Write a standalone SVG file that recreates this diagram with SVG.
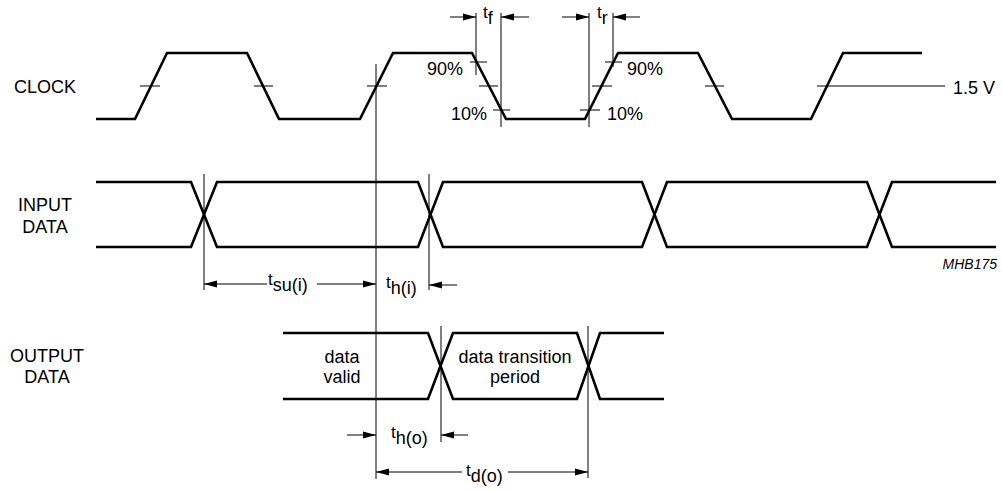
<svg xmlns="http://www.w3.org/2000/svg" width="1002" height="490" viewBox="0 0 1002 490">
<style>
.sig{fill:none;stroke:#000;stroke-width:2.6;stroke-linejoin:miter}
.thin{fill:none;stroke:#000;stroke-width:1}
.arr{fill:none;stroke:#000;stroke-width:1;marker-end:url(#ah)}
text{font-family:"Liberation Sans",Arial,sans-serif;font-size:18px;fill:#000}
.c{text-anchor:middle}
.sm{font-size:17px}
.sub{font-size:18px}
.it{font-style:italic;font-size:14px}
</style>
<defs>
<marker id="ah" markerUnits="userSpaceOnUse" markerWidth="13" markerHeight="8" refX="13" refY="4" orient="auto">
<path d="M0,0.5 L13,4 L0,7.5 z" fill="#000"/>
</marker>
</defs>
<rect width="1002" height="490" fill="#fff"/>
<g id="clock">
<text x="14" y="93">CLOCK</text>
<path class="sig" d="M96,119 H135 L167,53 H247 L279,119 H360 L393,53 H472 L506,119 H585 L618,53 H698 L732,119 H811 L843,53 H922"/>
<path class="thin" d="M140,86 H160 M254,86 H273 M367,86 H387 M470,62 H487 M479,86 H498 M493,110 H510 M580,110 H600 M592,86 H612 M605,62 H622 M705,86 H724 M817,86 H945"/>
<text x="463" y="75" text-anchor="end">90%</text>
<text x="487" y="120" text-anchor="end">10%</text>
<text x="627" y="75">90%</text>
<text x="607" y="120">10%</text>
<text x="953" y="94">1.5 V</text>
</g>
<g id="input-data">
<text class="c" x="45" y="211">INPUT</text>
<text class="c" x="45" y="233">DATA</text>
<path class="sig" d="M96,182 H191 L217,247 H418 L443,182 H642 L667,247 H867 L892,182 H996"/>
<path class="sig" d="M96,247 H191 L217,182 H418 L443,247 H642 L667,182 H867 L892,247 H996"/>
<text class="it" x="997" y="269" text-anchor="end">MHB175</text>
</g>
<g id="output-data">
<text class="c" x="47" y="362">OUTPUT</text>
<text class="c" x="47" y="383">DATA</text>
<path class="sig" d="M283,333 H428 L453,399 H577 L600,333 H664"/>
<path class="sig" d="M283,399 H428 L453,333 H577 L600,399 H664"/>
<text class="c" x="342" y="363">data</text>
<text class="c" x="342" y="383">valid</text>
<text class="c" x="515" y="363">data transition</text>
<text class="c" x="515" y="383">period</text>
</g>
<g id="connectors">
<path class="thin" d="M376,64 V479 M476,13 V75 M501,13 V127 M589,13 V127 M613,13 V67 M204,174 V290 M429,174 V290 M441,326 V442 M588,326 V478"/>
<path class="arr" d="M450,17 H476"/>
<path class="arr" d="M529,17 H501"/>
<path class="arr" d="M562,17 H589"/>
<path class="arr" d="M640,17 H613"/>
<path class="arr" d="M267,284 H204"/>
<path class="arr" d="M317,284 H376"/>
<path class="arr" d="M457,285 H429"/>
<path class="arr" d="M347,435 H376"/>
<path class="arr" d="M468,435 H441"/>
<path class="arr" d="M462,472 H376"/>
<path class="arr" d="M508,472 H588"/>
<text class="sm" x="483" y="18">t<tspan class="sub" dy="6">f</tspan></text>
<text class="sm" x="597" y="18">t<tspan class="sub" dy="6">r</tspan></text>
<text class="sm" x="268" y="285">t<tspan class="sub" dy="6">su(i)</tspan></text>
<text class="sm" x="386" y="288">t<tspan class="sub" dy="6">h(i)</tspan></text>
<text class="sm" x="391" y="438">t<tspan class="sub" dy="6">h(o)</tspan></text>
<text class="sm" x="466" y="476">t<tspan class="sub" dy="6">d(o)</tspan></text>
</g>
</svg>
